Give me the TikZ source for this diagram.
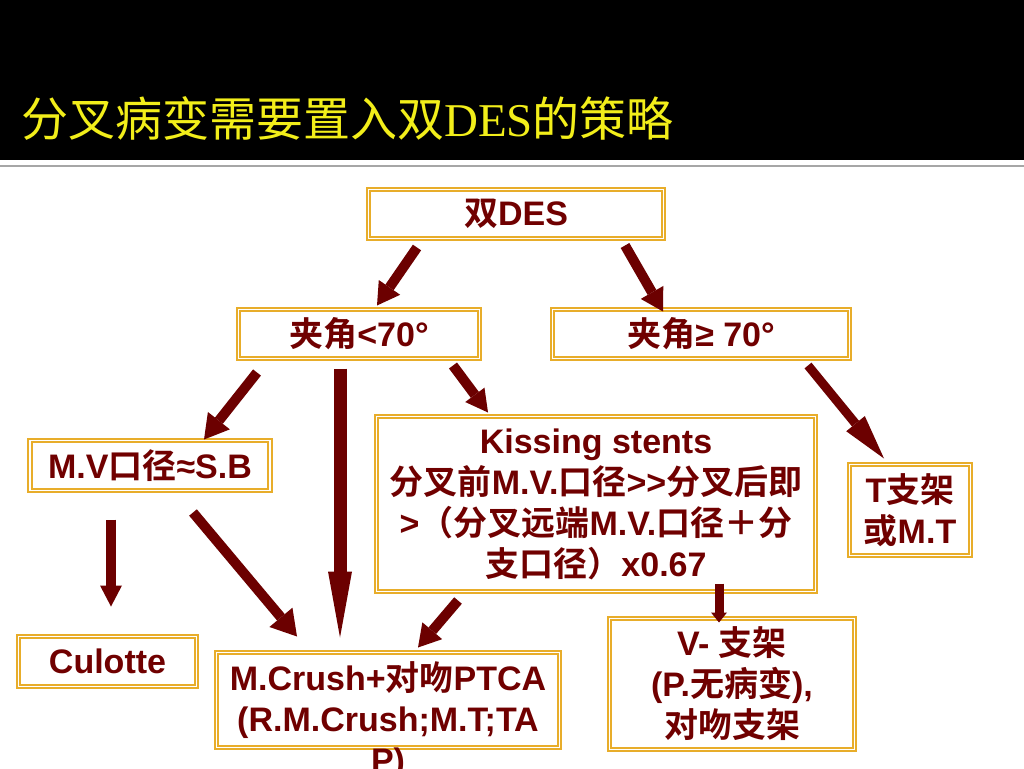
\documentclass[tikz,border=0pt]{standalone}
\usepackage{fontspec}
\setmainfont{Liberation Sans}[BoldFont={Liberation Sans Bold}]
\newfontfamily\cjk{Noto Sans CJK SC}[BoldFont={Noto Sans CJK SC Bold}]
\newfontfamily\latinserif{Liberation Serif}
\newcommand{\zh}[1]{{\cjk #1}}
\usepackage{tikz}
\usetikzlibrary{arrows.meta}

\definecolor{boxgold}{HTML}{E8AD2A}
\definecolor{textred}{HTML}{700000}
\definecolor{arrowred}{HTML}{6C0000}
\definecolor{titleyellow}{HTML}{F2EE1A}

\tikzset{
  box/.style={draw=boxgold, line width=2pt, double=white, double distance=1.4pt,
    fill=white, outer sep=0pt, inner sep=0pt, text=textred, align=center,
    font=\bfseries\fontsize{34}{41}\selectfont},
  txt/.style={text=textred, align=center, inner sep=0pt,
    font=\bfseries\fontsize{34}{41}\selectfont},
  arr/.style={draw=arrowred, line width=10pt},
  head/.style 2 args={-{Triangle[length=#1pt,width=#2pt,line width=0pt]}}
}

\begin{document}
\begin{tikzpicture}[x=1pt,y=-1pt]
  \useasboundingbox (0,0) rectangle (1024,768);
  \fill[white] (0,0) rectangle (1024,768);
  % title band
  \fill[black] (0,0) rectangle (1024,160);
  \draw[gray!70, line width=2pt] (0,166) -- (1024,166);
  \node[anchor=west, inner sep=0pt, text=titleyellow,
        font=\fontsize{47}{52}\selectfont] (title) at (21,118)
        {\zh{分叉病变需要置入双}{\latinserif DES}\zh{的策略}};

  % boxes
  \node[box, minimum width=295pt, minimum height=49pt] (des) at (516,214) {\zh{双}DES};
  \node[box, minimum width=241pt, minimum height=49pt] (lt)  at (359,334) {\zh{夹角}<70°};
  \node[box, minimum width=297pt, minimum height=49pt] (ge)  at (701,334) {\zh{夹角}≥ 70°};
  \node[box, minimum width=240pt, minimum height=50pt] (mv)  at (150,465.5) {M.V\zh{口径}≈S.B};
  \node[box, minimum width=439pt, minimum height=175pt] (kiss) at (596,504)
    {Kissing stents\\ \zh{分叉前}M.V.\zh{口径}>{}>\zh{分叉后即}\\
     >\zh{（分叉远端}M.V.\zh{口径＋分}\\ \zh{支口径）}x0.67};
  \node[box, minimum width=121pt, minimum height=91pt] (tst) at (910,510) {T\zh{支架}\\ \zh{或}M.T};
  \node[box, minimum width=178pt, minimum height=50pt] (cul) at (107.5,661.5) {Culotte};
  \node[box, minimum width=343pt, minimum height=95pt] (crush) at (388,700) {};
  \node[txt, anchor=north] (crushtxt) at ([yshift=-9pt]crush.north)
    {M.Crush+\zh{对吻}PTCA\\ (R.M.Crush;M.T;TA\\ P)};
  \node[box, minimum width=245pt, minimum height=131pt] (vst) at (732,684)
    {V- \zh{支架}\\ (P.\zh{无病变}),\\ \zh{对吻支架}};

  % arrows
  \draw[arr, head={22}{26}] ([xshift=-99pt,yshift=-9pt]des.south) -- ([xshift=18pt,yshift=4pt]lt.north);
  \draw[arr, head={22}{26}] ([xshift=109pt,yshift=-7pt]des.south) -- ([xshift=-38pt,yshift=-2pt]ge.north);
  \draw[arr, head={24}{28}] ([xshift=-102pt,yshift=-14pt]lt.south) -- ([xshift=54pt,yshift=1pt]mv.north);
  \draw[arr, line width=13pt, head={66}{24}] ([xshift=-19pt,yshift=-10pt]lt.south) -- ([xshift=-48pt,yshift=15pt]crush.north);
  \draw[arr, head={22}{24}] ([xshift=94pt,yshift=-7pt]lt.south) -- ([xshift=-108pt,yshift=4pt]kiss.north);
  \draw[arr, line width=9pt, head={45}{24}] ([xshift=107pt,yshift=-7pt]ge.south) -- ([xshift=-26pt,yshift=6pt]tst.north);
  \draw[arr, head={21}{22}] ([xshift=-39pt,yshift=-29pt]mv.south) -- ([xshift=3.5pt,yshift=30pt]cul.north);
  \draw[arr, head={25}{30}] ([xshift=43pt,yshift=-22pt]mv.south) -- ([xshift=-91pt,yshift=16pt]crush.north);
  \draw[arr, head={22}{26}] ([xshift=-138pt,yshift=-9pt]kiss.south) -- ([xshift=30pt,yshift=5pt]crush.north);
  \draw[arr, line width=9pt, head={10}{16}] ([xshift=123pt,yshift=8pt]kiss.south) -- ([xshift=-13pt,yshift=-4pt]vst.north);
\end{tikzpicture}
\end{document}
